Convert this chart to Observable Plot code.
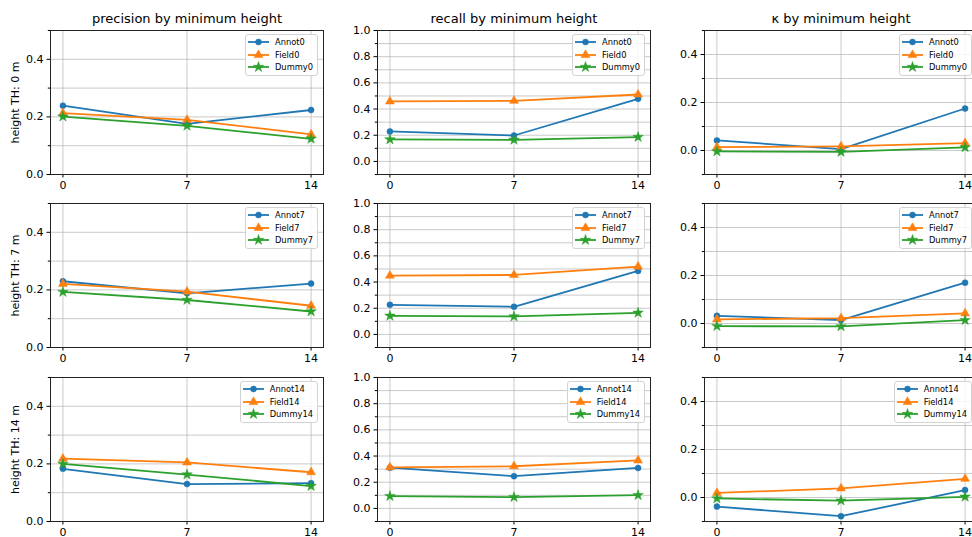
<!DOCTYPE html>
<html><head><meta charset="utf-8">
<script src="https://cdn.jsdelivr.net/npm/d3@7"></script>
<script src="https://cdn.jsdelivr.net/npm/@observablehq/plot@0.6"></script>
<style>
body{margin:0;background:#fff;font-family:"DejaVu Sans",sans-serif;}
#wrap{position:relative;width:972px;height:537px;overflow:hidden;background:#fff;}
.legend{position:absolute;background:rgba(255,255,255,0.85);border:1px solid #d3d3d3;border-radius:3px;font-size:8.3px;padding:1.5px 4px 1.5px 2px;color:#000;}
.legend .row{display:flex;align-items:center;height:12.4px;white-space:nowrap;}
.legend svg{display:block;margin-right:5px;}
</style></head>
<body><div id="wrap"></div>
<script>
const heights = [0, 7, 14];           // x axis: minimum height
const thresholds = [0, 7, 14];        // rows: height TH
const metricTitles = ["precision by minimum height", "recall by minimum height", "κ by minimum height"];
const seriesNames = ["Annot", "Field", "Dummy"];
const seriesColors = ["#1f77b4", "#ff7f0e", "#2ca02c"];
const seriesSymbols = ["circle", "triangle", "star"];

// values: one row per height TH (0, 7, 14), one value per minimum height (0, 7, 14)
const precisionAnnot = [[0.239, 0.176, 0.224], [0.230, 0.188, 0.222], [0.183, 0.130, 0.133]];
const precisionField = [[0.213, 0.190, 0.139], [0.221, 0.194, 0.145], [0.218, 0.205, 0.171]];
const precisionDummy = [[0.201, 0.169, 0.124], [0.193, 0.165, 0.125], [0.200, 0.163, 0.123]];
const recallAnnot = [[0.229, 0.198, 0.478], [0.226, 0.211, 0.485], [0.311, 0.246, 0.309]];
const recallField = [[0.458, 0.463, 0.511], [0.449, 0.454, 0.518], [0.314, 0.322, 0.367]];
const recallDummy = [[0.168, 0.165, 0.186], [0.142, 0.137, 0.165], [0.094, 0.086, 0.101]];
const kappaAnnot = [[0.042, 0.006, 0.175], [0.032, 0.014, 0.170], [-0.038, -0.078, 0.031]];
const kappaField = [[0.014, 0.017, 0.031], [0.017, 0.022, 0.042], [0.019, 0.038, 0.078]];
const kappaDummy = [[-0.004, -0.006, 0.013], [-0.011, -0.012, 0.014], [-0.004, -0.013, 0.003]];

// axis ticks per metric column
const yDomains = [[0, 0.5], [-0.1, 1.0], [-0.1, 0.5]];
const yMajorTicks = [[0, 0.2, 0.4], [0, 0.2, 0.4, 0.6, 0.8, 1.0], [0, 0.2, 0.4]];
const yMinorTicks = [[0.1, 0.3, 0.5], [-0.1, 0.1, 0.3, 0.5, 0.7, 0.9], [-0.1, 0.1, 0.3, 0.5]];
const xTicks = [0, 7, 14];

const metricValues = [
  [precisionAnnot, precisionField, precisionDummy],
  [recallAnnot, recallField, recallDummy],
  [kappaAnnot, kappaField, kappaDummy]
];

const wrap = document.getElementById("wrap");
const symbolSizes = {circle: 3, triangle: 3.3, star: 3.3};
const colW = 327, mL = 50, mR = 4, mT = 30, frameH = 144, mB = 24;
const rowTops = [0, 173, 347];

thresholds.forEach((th, r) => {
  metricValues.forEach((group, c) => {
    const data = [];
    group.forEach((rows, s) => {
      rows[r].forEach((v, i) => data.push({h: heights[i], v, s: seriesNames[s]}));
    });
    const marks = [
      Plot.gridY(yMajorTicks[c].concat(yMinorTicks[c]), {stroke: "#b0b0b0", strokeOpacity: 0.75, strokeWidth: 0.9}),
      Plot.gridX(xTicks, {stroke: "#b0b0b0", strokeOpacity: 0.75, strokeWidth: 0.9}),
      Plot.axisY(yMajorTicks[c], {tickSize: 3.5, tickPadding: 3.5, tickFormat: d3.format(".1f"), label: null, fontSize: 11}),
      Plot.axisY(yMinorTicks[c], {tickSize: 2.2, tickFormat: () => "", label: null}),
      Plot.axisX(xTicks, {tickSize: 3.5, tickPadding: 3, label: null, fontSize: 11}),
      Plot.line(data, {x: "h", y: "v", z: "s", stroke: "s", strokeWidth: 1.8}),
      ...seriesNames.map((name, s) =>
        Plot.dot(data.filter(d => d.s === name), {x: "h", y: "v", fill: "s", stroke: "s", strokeWidth: 0.5, symbol: "s", r: symbolSizes[seriesSymbols[s]]})),
      Plot.frame({stroke: "#222", strokeWidth: 1})
    ];
    if (r === 0) marks.push(Plot.text([metricTitles[c]], {frameAnchor: "top", dy: -12, text: d => d, fontSize: 13, lineAnchor: "middle", textAnchor: "middle"}));
    if (c === 0) marks.push(Plot.text([`height TH: ${th} m`], {frameAnchor: "left", dx: -35, rotate: -90, text: d => d, fontSize: 11, lineAnchor: "middle", textAnchor: "middle"}));
    const svg = Plot.plot({
      width: colW, height: mT + frameH + mB,
      marginLeft: mL, marginRight: mR, marginTop: mT, marginBottom: mB,
      x: {domain: [-0.7, 14.7], label: null},
      y: {domain: yDomains[c], label: null},
      color: {domain: seriesNames, range: seriesColors},
      symbol: {domain: seriesNames, range: seriesSymbols},
      style: {background: "transparent", fontFamily: "DejaVu Sans", fontSize: "11px", color: "#000", overflow: "visible", maxWidth: "none"},
      marks
    });
    svg.style.position = "absolute";
    svg.style.left = (c * colW) + "px";
    svg.style.top = rowTops[r] + "px";
    wrap.appendChild(svg);

    // legend
    const leg = document.createElement("div");
    leg.className = "legend";
    const frameRight = c * colW + mL + (colW - mL - mR);
    leg.style.right = (972 - (frameRight - 5)) + "px";
    leg.style.top = (rowTops[r] + mT + 3.5) + "px";
    seriesNames.forEach((name, s) => {
      const row = document.createElement("div");
      row.className = "row";
      const sym = seriesSymbols[s];
      const rr = symbolSizes[sym];
      const path = d3.symbol(sym === "circle" ? d3.symbolCircle : sym === "triangle" ? d3.symbolTriangle : d3.symbolStar, rr * rr * Math.PI)();
      row.innerHTML = `<svg width="22" height="12"><line x1="0" x2="21" y1="6" y2="6" stroke="${seriesColors[s]}" stroke-width="1.8"/><path d="${path}" transform="translate(10.5,6)" fill="${seriesColors[s]}" stroke="${seriesColors[s]}" stroke-width="0.5"/></svg><span>${name}${th}</span>`;
      leg.appendChild(row);
    });
    wrap.appendChild(leg);
  });
});
</script></body></html>
